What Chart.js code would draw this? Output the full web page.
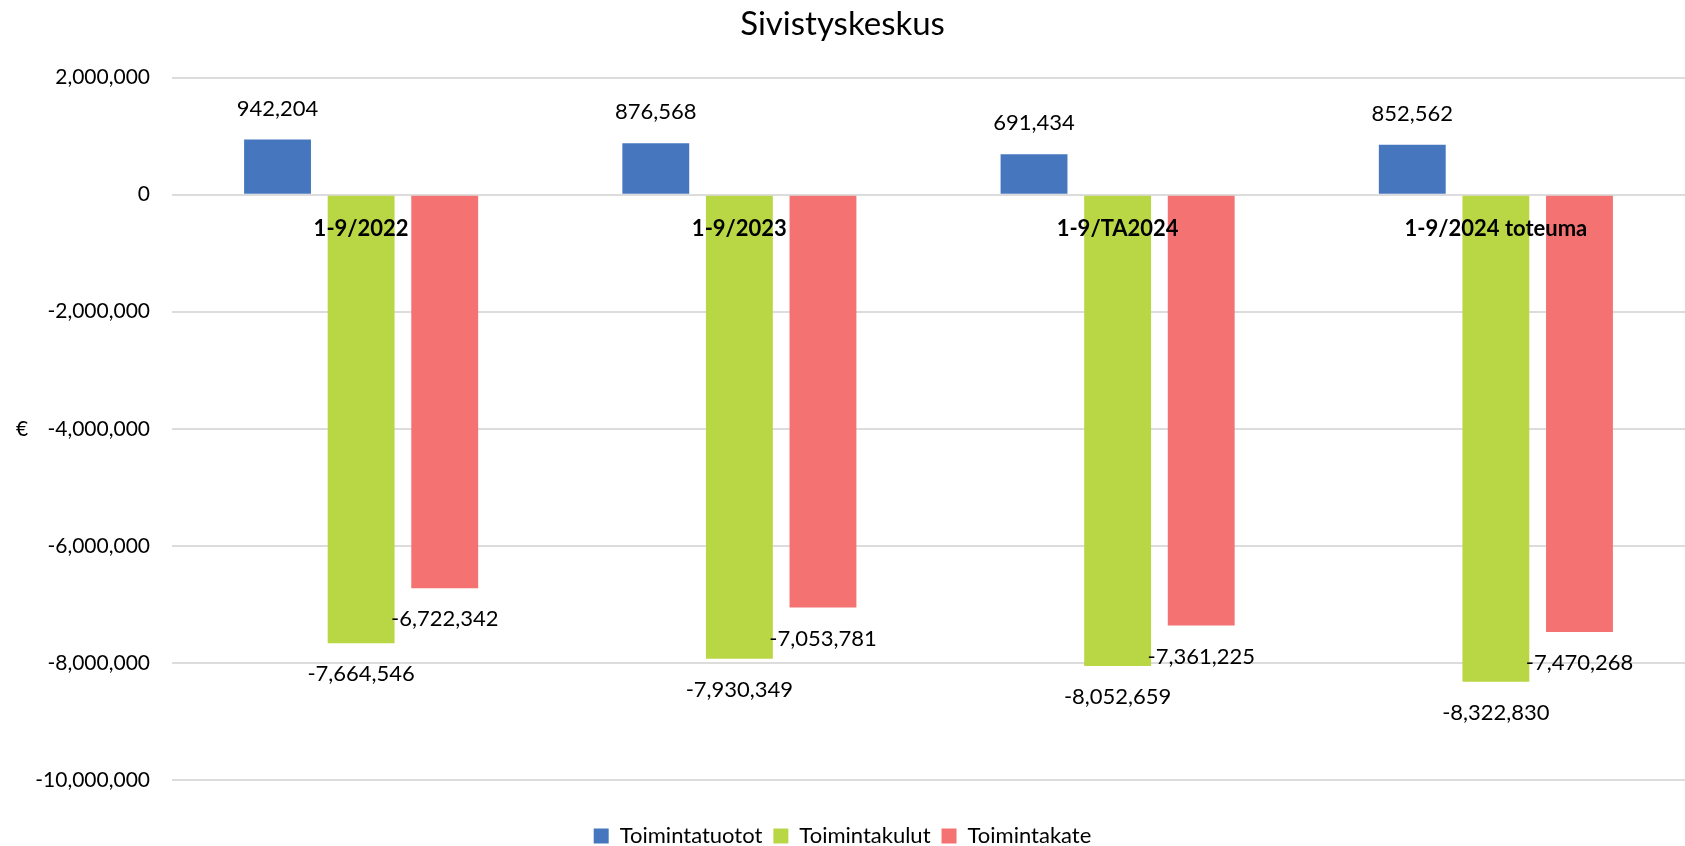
<!DOCTYPE html>
<html>
<head>
<meta charset="utf-8">
<script src="https://cdn.jsdelivr.net/npm/chart.js@4/dist/chart.umd.min.js"></script>
<style>
  html, body { margin: 0; padding: 0; background: #fff; }
  #wrap { width: 1685px; height: 846px; position: relative; }
</style>
</head>
<body>
<div id="wrap"><canvas id="c"></canvas></div>
<script>
const categories = ['1-9/2022', '1-9/2023', '1-9/TA2024', '1-9/2024 toteuma'];
const seriesNames = ['Toimintatuotot', 'Toimintakulut', 'Toimintakate'];
const toimintatuotot = [942204, 876568, 691434, 852562];
const toimintakulut = [-7664546, -7930349, -8052659, -8322830];
const toimintakate = [-6722342, -7053781, -7361225, -7470268];
const yMin = -10000000, yMax = 2000000, yStep = 2000000;
const titleText = 'Sivistyskeskus';
const yAxisTitle = '€';

const FONT = 'Lato, "Open Sans", sans-serif';

const dataLabelPlugin = {
  id: 'dataLabels',
  afterDatasetsDraw(chart) {
    const ctx = chart.ctx;
    ctx.save();
    ctx.font = '22px ' + FONT;
    ctx.fillStyle = '#000';
    ctx.textAlign = 'center';
    ctx.textBaseline = 'middle';
    chart.data.datasets.forEach((ds, di) => {
      const meta = chart.getDatasetMeta(di);
      meta.data.forEach((el, i) => {
        const v = ds.data[i];
        const off = 31;
        const y = v >= 0 ? el.y - off : el.y + off;
        ctx.fillText(v.toLocaleString('en-US'), el.x, y);
      });
    });
    ctx.restore();
  }
};

const axisTitlePlugin = {
  id: 'euroTitle',
  afterDraw(chart) {
    const ctx = chart.ctx;
    const a = chart.chartArea;
    ctx.save();
    ctx.font = '21px ' + FONT;
    ctx.fillStyle = '#000';
    ctx.textAlign = 'center';
    ctx.textBaseline = 'middle';
    ctx.fillText(yAxisTitle, 22, (a.top + a.bottom) / 2);
    ctx.restore();
  }
};

new Chart(document.getElementById('c'), {
  type: 'bar',
  data: {
    labels: categories,
    datasets: [
      { label: seriesNames[0], data: toimintatuotot, backgroundColor: '#4677BE' },
      { label: seriesNames[1], data: toimintakulut, backgroundColor: '#B9D645' },
      { label: seriesNames[2], data: toimintakate, backgroundColor: '#F47272' }
    ]
  },
  options: {
    responsive: true,
    maintainAspectRatio: false,
    animation: false,
    layout: { padding: { left: 0, right: 0, top: 0, bottom: -11 } },
    datasets: { bar: { categoryPercentage: 0.663, barPercentage: 0.8 } },
    plugins: {
      title: {
        display: true,
        text: titleText,
        color: '#000',
        font: { family: FONT, size: 33, weight: 'normal' },
        padding: { top: 5, bottom: 33 }
      },
      legend: {
        position: 'bottom',
        title: {
          display: true,
          text: '',
          font: { family: FONT, size: 10 },
          padding: { top: 22, bottom: 0 }
        },
        labels: {
          color: '#000',
          font: { family: FONT, size: 22 },
          boxWidth: 15,
          boxHeight: 15,
          padding: 11
        }
      },
      tooltip: { enabled: false }
    },
    scales: {
      x: {
        type: 'category',
        position: { y: 0 },
        grid: { display: false, drawTicks: false },
        border: { display: false },
        ticks: {
          z: 1,
          color: '#000',
          font: { family: FONT, size: 22, weight: 'bold' },
          padding: 21,
          maxRotation: 0,
          autoSkip: false
        }
      },
      y: {
        min: yMin,
        max: yMax,
        grid: { color: '#dcdcdc', lineWidth: 2, drawTicks: false },
        border: { display: false },
        ticks: {
          stepSize: yStep,
          color: '#000',
          font: { family: FONT, size: 21 },
          padding: 22,
          callback: v => Number(v).toLocaleString('en-US')
        },
        afterFit(scale) { scale.width = 172; }
      }
    }
  },
  plugins: [dataLabelPlugin, axisTitlePlugin]
});
</script>
</body>
</html>
